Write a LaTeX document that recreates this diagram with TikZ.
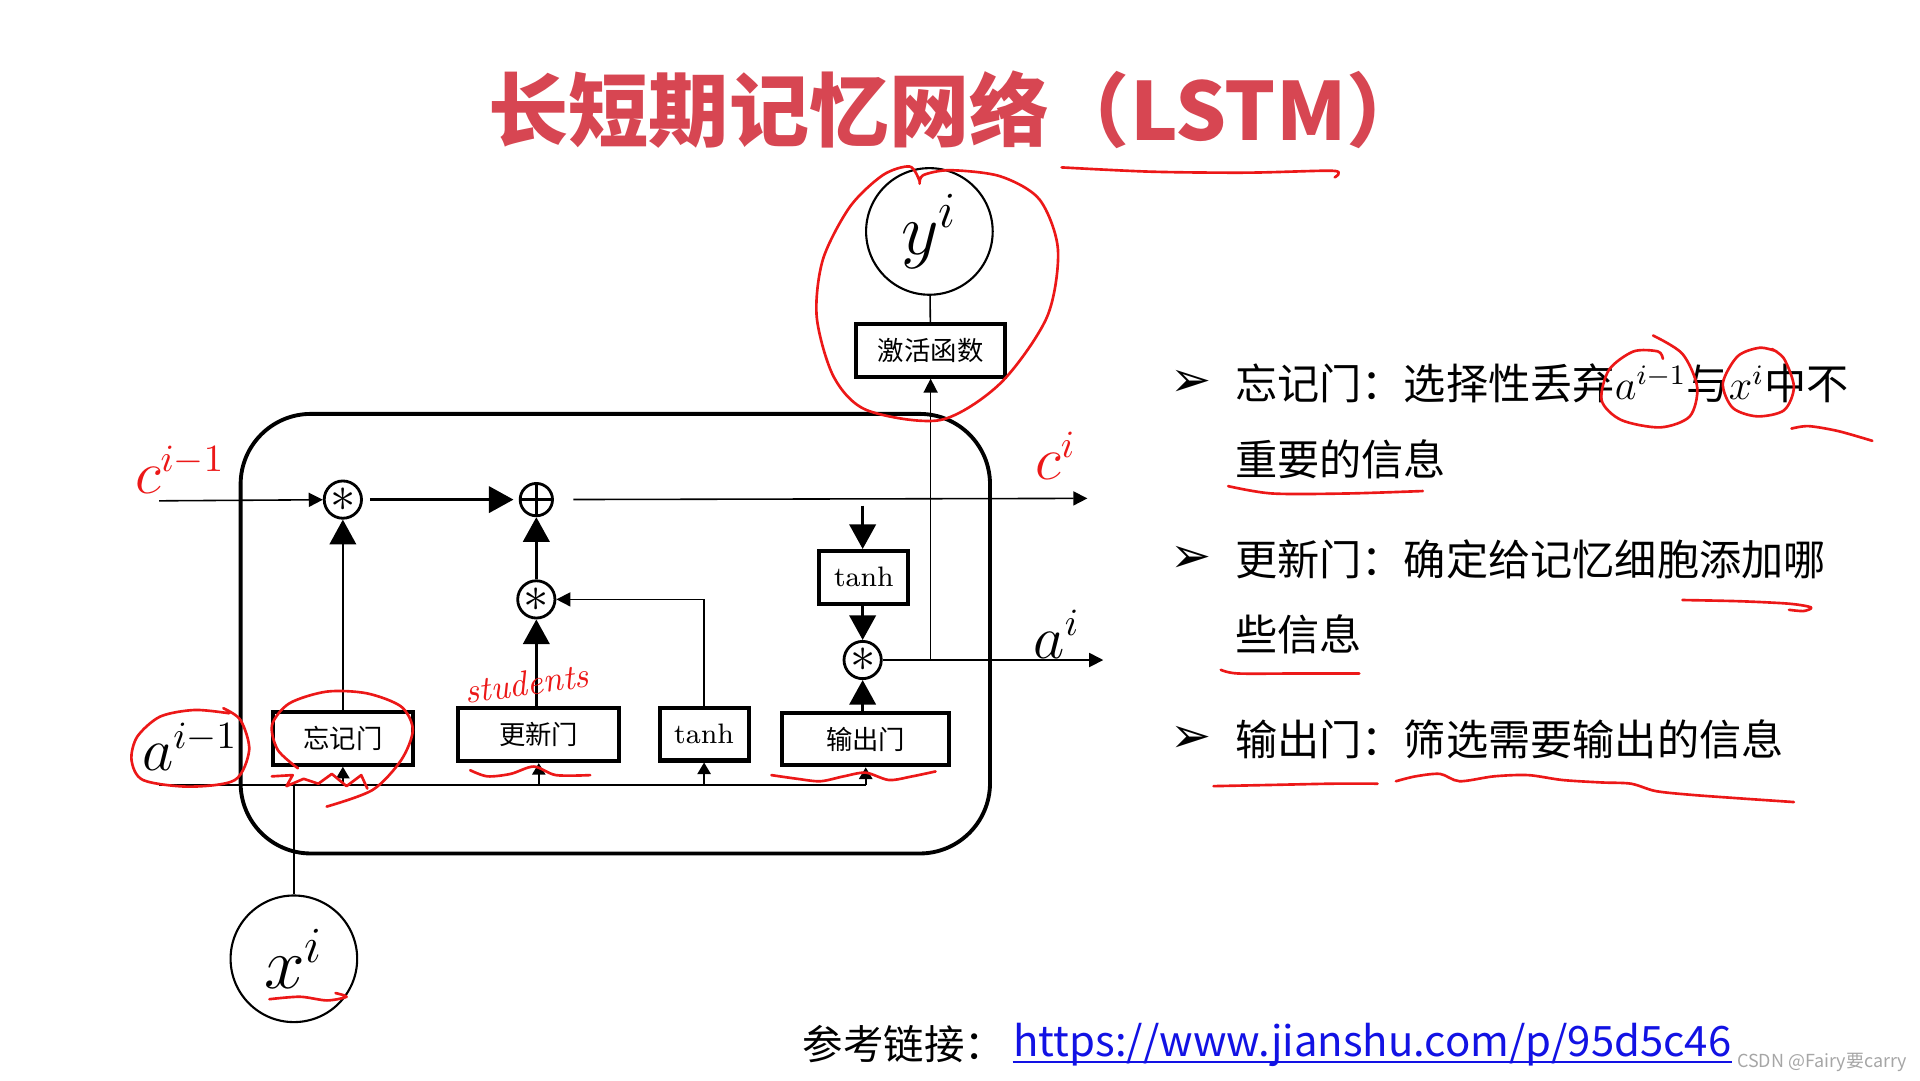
\documentclass[tikz,border=0pt]{standalone}
\usepackage{fontspec}
\newfontfamily\cjk{Noto Sans CJK SC}
\newfontfamily\symfont{DejaVu Sans}
\usetikzlibrary{arrows.meta}
\definecolor{TitleRed}{RGB}{215,70,82}
\definecolor{PenRed}{RGB}{236,24,24}
\definecolor{LinkBlue}{RGB}{18,18,228}
\newcommand\opstar{\fontsize{15}{15}\selectfont$\ast$}
\tikzset{
  gate/.style={
    draw, rectangle, line width=1.15pt,
    inner sep=0pt, minimum height=15pt,
    font=\cjk\fontsize{7.5}{9}\selectfont
  },
  tanh gate/.style={
    gate, minimum width=25.3pt,
    font=\fontsize{8}{10}\selectfont
  },
  op/.style={
    draw, circle, line width=0.8pt,
    inner sep=0pt, minimum size=10.6pt
  },
  var/.style={
    draw, circle, line width=0.6pt,
    inner sep=0pt, minimum size=36pt,
    font=\fontsize{21}{25}\selectfont
  },
  cell/.style={
    line width=1.1pt, rounded corners=20pt
  },
  thin line/.style={line width=0.45pt},
  mid line/.style={line width=0.6pt},
  thick line/.style={line width=0.8pt},
  big tip/.style={-{Triangle[length=7pt,width=7.5pt]}},
  small tip/.style={-{Triangle[length=4pt,width=4pt]}},
  bus tip/.style={-{Triangle[length=3.3pt,width=3.8pt]}},
  var label/.style={font=\fontsize{16}{19}\selectfont, inner sep=0pt},
  pen/.style={
    PenRed, line width=0.75pt,
    line cap=round, line join=round
  },
  bulletmark/.style={font=\symfont\fontsize{14}{16}\selectfont, inner sep=0pt},
  bullet text/.style={
    anchor=west, inner sep=0pt,
    font=\cjk\fontsize{12}{14}\selectfont
  },
}

\begin{document}
\begin{tikzpicture}[x=0.012245cm, y=-0.012245cm]
  \useasboundingbox (0,0) rectangle (1568,882);
  \fill[white] (0,0) rectangle (1568,882);

  % title
  \node[TitleRed, font=\cjk\bfseries\fontsize{22.8}{27}\selectfont] (ttl) at (782,90) {长短期记忆网络（LSTM）};

  % cell
  \draw[cell] (196.5,338) rectangle (808.5,697);

  \node[var] (yi) at (759,189) {$y^i$};
  \node[gate, minimum width=42.5pt] (act) at (760,286) {激活函数};
  \node[var] (xi) at (240,783) {$x^i$};

  \node[op] (mf) at (280,408) {\opstar};
  \node[op, minimum size=9.2pt] (add) at (438,408) {};
  \draw[thick line] (add.north) -- (add.south) (add.west) -- (add.east);
  \node[op] (mu) at (438,489.5) {\opstar};
  \node[op] (mo) at (704.5,539) {\opstar};

  \node[gate, minimum width=40pt] (fg) at (280,603) {忘记门};
  \node[gate, minimum width=45.7pt] (ug) at (440,600) {更新门};
  \node[tanh gate] (th1) at (575,599.5) {tanh};
  \node[gate, minimum width=47.4pt] (og) at (707,603.5) {输出门};
  \node[tanh gate] (th2) at (705.5,471.5) {tanh};

  \coordinate (cin) at (130,409);
  \coordinate (cout) at (888,407);
  \coordinate (tin) at (704.5,413);
  \coordinate (aout) at (901,539);
  \coordinate (ajoin) at (760,539);
  \coordinate (ain) at (130,641);
  \coordinate (aend) at (707,641);

  \draw[thin line, small tip] (cin) -- (mf);
  \draw[thick line, big tip, shorten <=2pt, shorten >=1.5pt] (mf) -- (add);
  \draw[thin line, small tip, shorten <=5.5pt] (add) -- (cout);
  \draw[mid line, big tip] (fg) -- (mf);
  \draw[thick line, big tip] (mu |- ug.north) -- (mu);
  \draw[thick line, big tip] (mu) -- (add);
  \draw[thin line, small tip] (th1.north) |- (mu);
  \draw[thick line, big tip] (tin) -- (mo |- th2.north);
  \draw[thick line, big tip] (mo |- th2.south) -- (mo);
  \draw[thick line, big tip] (mo |- og.north) -- (mo);
  \draw[thin line, small tip] (mo) -- (aout);
  \draw[thin line, small tip] (ajoin) -- (act);
  \draw[thin line] (yi) -- (act);

  \draw[thin line] (ain) -- (aend);
  \foreach \g in {fg,ug,th1,og}
    \draw[thin line, bus tip] (\g.south |- ain) -- (\g.south);
  \draw[thin line] (xi) -- (xi |- ain);

  \node[var label, PenRed] (cprev) at (147,384) {$c^{i-1}$};
  \node[var label, PenRed] (ci) at (862,372) {$c^i$};
  \node[var label] (ai) at (863,518) {$a^i$};
  \node[var label] (aprev) at (155,610) {$a^{i-1}$};

  % bullet points
  \node[bulletmark] (b1) at (973,313) {➢};
  \node[bullet text] (t1) at (1008,313) {忘记门：选择性丢弃$a^{i-1}$与$x^i$中不};
  \node[bullet text] (t2) at (1008,375) {重要的信息};
  \node[bulletmark] (b2) at (973,457) {➢};
  \node[bullet text] (t3) at (1008,457) {更新门：确定给记忆细胞添加哪};
  \node[bullet text] (t4) at (1008,518) {些信息};
  \node[bulletmark] (b3) at (973,604) {➢};
  \node[bullet text] (t5) at (1008,604) {输出门：筛选需要输出的信息};

  % reference link
  \node[anchor=west, inner sep=0pt, font=\cjk\fontsize{11.5}{14}\selectfont] (refl) at (655,853) {参考链接：};
  \node[anchor=west, inner sep=0pt, LinkBlue, font=\cjk\fontsize{11.9}{14}\selectfont] (url) at ([xshift=2pt]refl.east) {https://www.jianshu.com/p/95d5c46};
  \draw[LinkBlue, line width=0.6pt] ([yshift=-1.8pt]url.base west) -- ([yshift=-1.8pt]url.base east);
  \node[anchor=east, inner sep=0pt, gray!70, font=\cjk\fontsize{5.1}{6}\selectfont] (wm) at (1558,868) {CSDN @Fairy要carry};

  % pen notes
  \draw[pen] plot[smooth] coordinates {(867,136.7) (940,140.2) (1018,141) (1086,139.4) (1093,142) (1090,144.8)};
  \draw[pen] plot[smooth] coordinates {(751,148) (743,136) (721,143) (694,169) (672,212) (667,259) (681,308) (708,335) (768,343) (817,313) (855,259) (864,204) (849,163) (817,144) (776,139) (754,143) (751,150)};
  \draw[pen] plot[smooth] coordinates {(187.1,582.5) (158.9,579.8) (130.8,585.2) (112.1,601.6) (107.4,620.6) (116.8,637.0) (154.3,642.4) (191.8,637.0) (203.5,612.5) (196.4,588.0) (182.4,578.4)};
  \draw[pen] plot[smooth] coordinates {(243.3,627.4) (226.9,612.5) (222.2,592.0) (236.3,574.4) (266.8,564.8) (299.6,566.2) (327.7,577.1) (337.1,596.1) (327.7,620.6) (304.3,645.1) (266.8,658.7)};
  \draw[pen] (222,634) -- (239,633) -- (234,642) -- (248,636) -- (260,640) -- (271,632) -- (283,642) -- (295,633) -- (300,644);
  \draw[pen] plot[smooth] coordinates {(384,629) (398,634) (417,632) (436,626) (454,633) (482,633)};
  \draw[pen] plot[smooth] coordinates {(630,633) (651,636) (670,638) (689,634) (707,631) (726,637) (745,634) (764,630)};
  \draw[pen] plot[smooth] coordinates {(220,816) (245,814) (267,817) (283,814) (274,811)};
  \node[PenRed, rotate=8, inner sep=0pt, font=\itshape\fontsize{10}{12}\selectfont] (stu) at (430,558) {students};

  \draw[pen] plot[smooth] coordinates {(1350,274) (1374,289) (1386,316) (1380,340) (1356,349) (1324,343) (1308,327) (1314,302) (1334,287) (1354,287) (1358,293)};
  \draw[pen] plot[smooth] coordinates {(1451,287) (1437,284) (1419,291) (1407,313) (1415,333) (1435,340) (1457,335) (1465,316) (1457,293) (1447,285)};
  \draw[pen] plot[smooth] coordinates {(1463,350) (1477,348) (1501,352) (1529,360)};
  \draw[pen] plot[smooth] coordinates {(1003,397) (1039,403) (1100,403) (1162,401)};
  \draw[pen] plot[smooth] coordinates {(1374,490) (1421,491) (1461,493) (1479,496) (1473,499) (1461,498)};
  \draw[pen] plot[smooth] coordinates {(997,547) (1011,550) (1060,550) (1110,550)};
  \draw[pen] plot[smooth] coordinates {(991,642) (1039,641) (1088,640) (1125,640)};
  \draw[pen] plot[smooth] coordinates {(1140,638) (1156,634) (1176,632) (1192,638) (1220,634) (1248,633) (1276,637) (1308,639) (1332,640) (1352,646) (1380,649) (1421,652) (1465,655)};
\end{tikzpicture}
\end{document}
